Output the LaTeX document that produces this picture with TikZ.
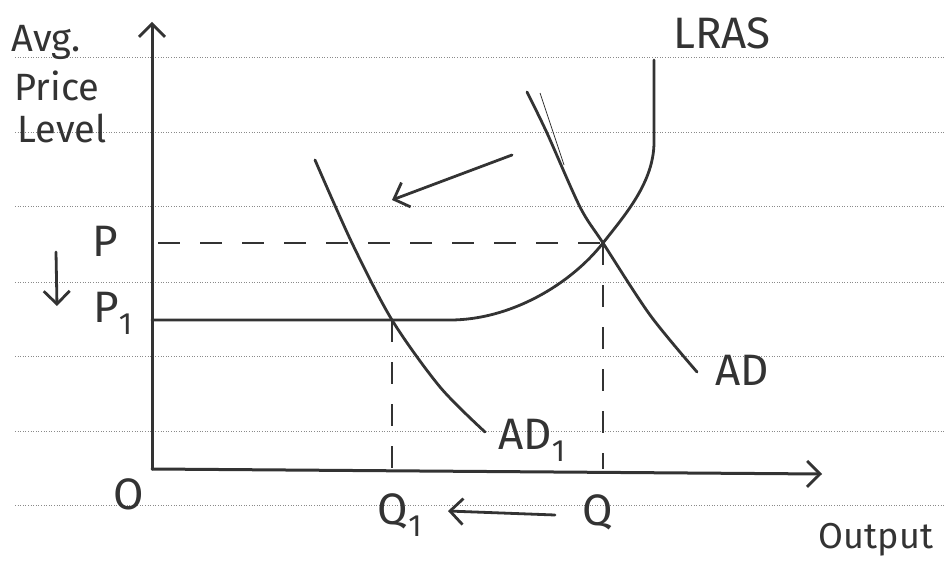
\documentclass[tikz,border=0pt]{standalone}
\usepackage{fontspec}
\setmainfont{Fira Sans}
\usetikzlibrary{arrows.meta}
\definecolor{ink}{HTML}{333333}
\definecolor{rule}{HTML}{8A8A8A}
\begin{document}
\begin{tikzpicture}[x=1pt,y=-1pt,
  ruled/.style={draw=rule, line width=1pt, dash pattern=on 1pt off 1.6pt},
  axis/.style={draw=ink, line width=3pt, line cap=round},
  curve/.style={draw=ink, line width=2.8pt, line cap=round},
  guide/.style={draw=ink, line width=2.4pt, dash pattern=on 22pt off 20pt},
  barb/.style={-{Straight Barb[length=13pt,width=26pt,line width=2.8pt]}},
  lbl/.style={text=ink, inner sep=0pt, font=\fontsize{44}{46}\selectfont},
  ylbl/.style={text=ink, inner sep=0pt, font=\fontsize{38}{40}\selectfont},
  sub/.style={text=ink, inner sep=0pt, font=\fontsize{36}{40}\selectfont}]
\useasboundingbox (0,0) rectangle (944,561);
\fill[white] (0,0) rectangle (944,561);
% ruled paper
\foreach \yy in {58,133,207,282,356,431,505}
  \draw[ruled] (15,\yy) -- (944,\yy);
% key points
\coordinate (O) at (152,469);
\coordinate (ytop) at (152,22);
\coordinate (xend) at (822,474);
\coordinate (E) at (603,243);
\coordinate (E1) at (392,320);
\coordinate (Pax) at (158,243);
\coordinate (Qax) at (603,469);
\coordinate (Q1ax) at (392,470);
\coordinate (kink) at (450,320);
\coordinate (P1ax) at (152,320);
\coordinate (ltop) at (654,60);
\coordinate (lbend) at (654,142);
% axes
\draw[axis, barb] (O) -- (ytop);
\draw[axis, barb] (O) -- (xend);
% guides
\draw[guide] (Pax) -- (E);
\draw[guide] (E) -- (Qax);
\draw[guide] (E1) -- (Q1ax);
% LRAS
\draw[curve] (ltop) -- (lbend) .. controls (654,182) and (625,215) .. (E)
  .. controls (570,285) and (510,320) .. (kink) -- (P1ax);
% AD
\draw[curve] plot[smooth] coordinates {(527,92) (547,133) (580,207) (E) (650,315) (697,372)};
\draw[draw=ink, line width=0.8pt] (540,93) -- (564,165);
% AD1
\draw[curve] plot[smooth] coordinates {(315,160) (352,243) (E1) (440,387) (485,432)};
% shift arrows
\coordinate (s1) at (512,155);
\coordinate (s2) at (392,200);
\draw[curve, barb] (s1) -- (s2);
\coordinate (b1) at (555,515);
\coordinate (b2) at (448,511);
\draw[curve, barb] (b1) -- (b2);
\coordinate (d1) at (56,252);
\coordinate (d2) at (57,306);
\draw[curve, barb] (d1) -- (d2);
% labels
\node[ylbl] (avg) at (46,42) {Avg.};
\node[ylbl] (price) at (57,86) {Price};
\node[ylbl] (level) at (62,128) {Level};
\node[lbl] (lras) at (722,33) {LRAS};
\node[lbl] (p) at (105,241) {P};
\node[lbl] (p1) at (113,313) {P\textsubscript{1}};
\node[lbl] (o) at (129,494) {O};
\node[lbl] (q1) at (400,515) {Q\textsubscript{1}};
\node[lbl] (q) at (598,512) {Q};
\node[lbl] (ad1) at (532,440) {AD\textsubscript{1}};
\node[lbl] (ad) at (742,370) {AD};
\node[sub] (out) at (876,540) {Output};
\end{tikzpicture}
\end{document}
